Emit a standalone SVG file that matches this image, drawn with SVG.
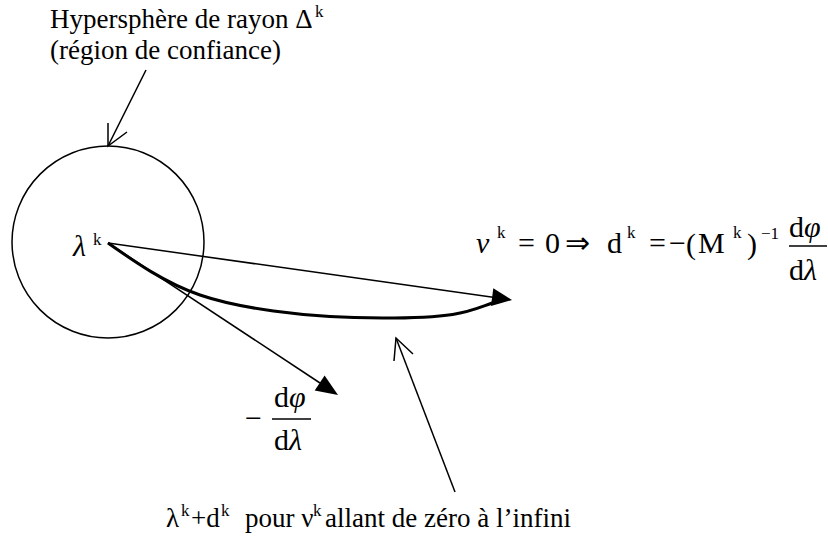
<svg xmlns="http://www.w3.org/2000/svg" width="828" height="537" viewBox="0 0 828 537">
<style>
text{font-family:"Liberation Serif","Times New Roman",serif;fill:#000}
.t{font-size:27px}
.m{font-size:30px}
.i{font-style:italic}
.s{font-size:17px}
.ln{stroke:#000;fill:none;stroke-width:1.5}
.thick{stroke:#000;fill:none;stroke-width:3}
.head{fill:#000;stroke:none}
</style>
<rect width="828" height="537" fill="#fff"/>
<g id="hypersphere-label">
<text class="t" x="50" y="28">Hypersphère de rayon Δ</text>
<text class="s" x="315" y="17">k</text>
<text class="t" x="50" y="59">(région de confiance)</text>
</g>
<g id="sphere">
<circle cx="108" cy="242" r="96" class="ln" stroke-width="2"/>
<text class="m i" x="73" y="256" font-size="32">λ</text>
<text class="s" x="93" y="245">k</text>
</g>
<g id="equation">
<text class="m i" x="476" y="253" font-size="33">ν</text>
<text class="s" x="497" y="238">k</text>
<text class="m" x="518" y="253">=</text>
<text class="m" x="545" y="253">0</text>
<text class="m" x="565" y="253" font-family="DejaVu Serif,serif" font-size="29">⇒</text>
<text class="m" x="607" y="253">d</text>
<text class="s" x="627" y="238">k</text>
<text class="m" x="649" y="253">=</text>
<text class="m" x="669" y="253" font-size="24">−</text>
<text class="m" x="686" y="254" font-size="37">(</text>
<text class="m" x="698" y="253">M</text>
<text class="s" x="733" y="238">k</text>
<text class="m" x="747" y="254" font-size="37">)</text>
<text class="s" x="761" y="239">−1</text>
<text class="m" x="789" y="237">d<tspan class="i">φ</tspan></text>
<line x1="789" y1="246" x2="827" y2="246" class="ln"/>
<text class="m" x="789" y="280">d<tspan class="i">λ</tspan></text>
</g>
<g id="gradient">
<text class="m" x="245" y="428" font-size="32">−</text>
<text class="m" x="274" y="407">d<tspan class="i">φ</tspan></text>
<line x1="272" y1="419" x2="311" y2="419" class="ln"/>
<text class="m" x="274" y="450">d<tspan class="i">λ</tspan></text>
</g>
<g id="caption">
<text class="t" y="527"><tspan x="166">λ</tspan><tspan x="181" y="516" font-size="17">k</tspan><tspan x="191" y="527">+d</tspan><tspan x="221" y="516" font-size="17">k</tspan><tspan x="245" y="527">pour ν</tspan><tspan x="313" y="516" font-size="17">k</tspan><tspan x="325" y="527">allant de zéro à l’infini</tspan></text>
</g>
<g id="connectors">
<line x1="108" y1="243" x2="493" y2="297.3" class="ln"/>
<polygon class="head" points="512,300 493.3,288.3 491,306"/>
<line x1="108" y1="243" x2="320" y2="383" class="ln"/>
<polygon class="head" points="338,395 314.7,390.4 324.6,375.4"/>
<path class="thick" d="M108,243 C135,262 165,283 200,295 S300,318 383,318 S470,310 498,301"/>
<line x1="146" y1="70" x2="108" y2="146" class="ln"/>
<polyline class="ln" points="108,123 108,146 127,132"/>
<line x1="396" y1="338" x2="455" y2="492" class="ln"/>
<polyline class="ln" points="394,361 396,338 413,354"/>
</g>
</svg>
